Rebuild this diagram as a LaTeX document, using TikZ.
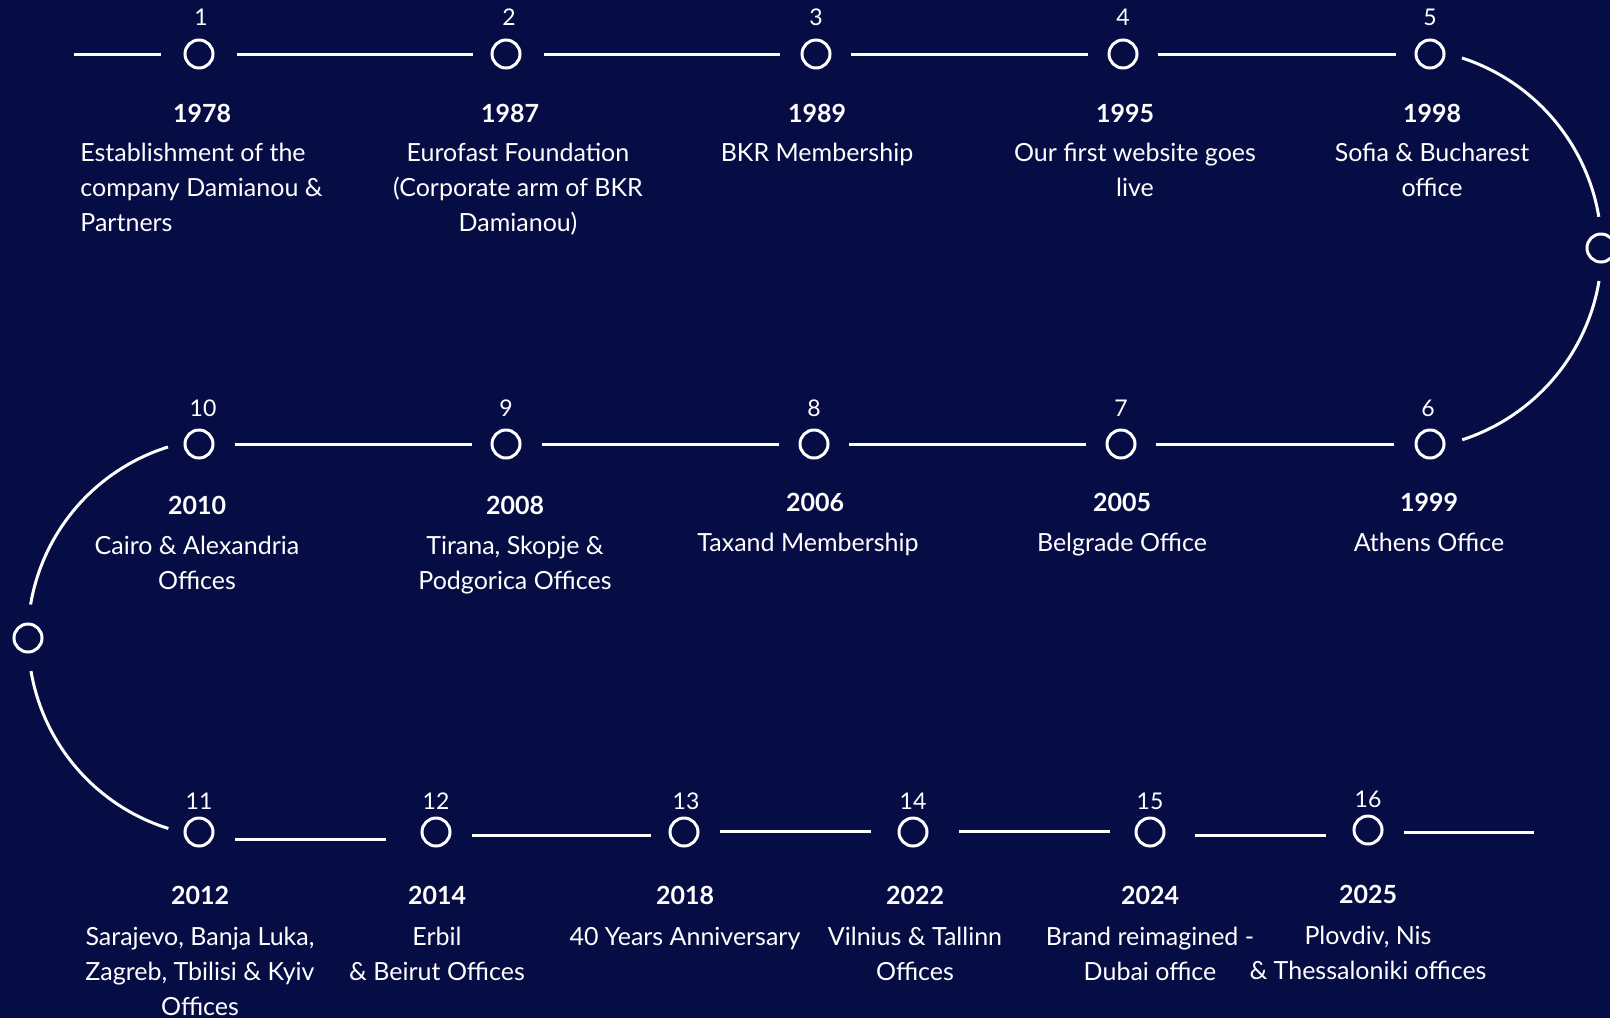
\documentclass[tikz,border=0pt]{standalone}
\usepackage{fontspec}
\setmainfont{Lato}
\definecolor{bgnavy}{RGB}{6,13,69}

\tikzset{
  dot/.style={circle,draw=white,line width=1.5pt,minimum size=14pt,inner sep=0pt},
  num/.style={white,font=\fontsize{11.5}{13}\selectfont,anchor=base,inner sep=0pt},
  yr/.style={white,font=\fontsize{12.5}{15}\selectfont\bfseries,anchor=base,inner sep=0pt},
  txt/.style={white,font=\fontsize{12.5}{17.5}\selectfont,anchor=base,align=center,inner sep=0pt},
  link/.style={white,line width=1.5pt}
}

\begin{document}
\begin{tikzpicture}[x=0.5pt,y=-0.5pt]
\useasboundingbox (0,0) rectangle (1610,1018);
\fill[bgnavy] (0,0) rectangle (1610,1018);
% first row
\node[dot] (n1) at (199,54) {};
\node[dot] (n2) at (506,54) {};
\node[dot] (n3) at (816,54) {};
\node[dot] (n4) at (1123,54) {};
\node[dot] (n5) at (1430,54) {};
\node[num] (k1) at (201,25) {1};
\node[num] (k2) at (509,25) {2};
\node[num] (k3) at (816,25) {3};
\node[num] (k4) at (1123,25) {4};
\node[num] (k5) at (1430,25) {5};
\node[yr] (y1) at (202,122) {1978};
\node[yr] (y2) at (510,122) {1987};
\node[yr] (y3) at (817,122) {1989};
\node[yr] (y4) at (1125,122) {1995};
\node[yr] (y5) at (1432,122) {1998};
% multi-line texts sit on their last line
\node[txt,anchor=base west,align=left] (d1) at (80,231) {Establishment of the\\company Damianou \&\\Partners};
\node[txt] (d2) at (518,231) {Eurofast Foundation\\(Corporate arm of BKR\\Damianou)};
\node[txt] (d3) at (817,161) {BKR Membership};
\node[txt] (d4) at (1135,196) {Our first website goes\\live};
\node[txt] (d5) at (1432,196) {Sofia \& Bucharest\\office};
% second row
\node[dot] (n10) at (199,444) {};
\node[dot] (n9) at (506,444) {};
\node[dot] (n8) at (814,444) {};
\node[dot] (n7) at (1121,444) {};
\node[dot] (n6) at (1430,444) {};
\node[num] (k10) at (203,416) {10};
\node[num] (k9) at (506,416) {9};
\node[num] (k8) at (814,416) {8};
\node[num] (k7) at (1121,416) {7};
\node[num] (k6) at (1428,416) {6};
\node[yr] (y10) at (197,514) {2010};
\node[yr] (y9) at (515,514) {2008};
\node[yr] (y8) at (815,511) {2006};
\node[yr] (y7) at (1122,511) {2005};
\node[yr] (y6) at (1429,511) {1999};
\node[txt] (d10) at (197,589) {Cairo \& Alexandria\\Offices};
\node[txt] (d9) at (515,589) {Tirana, Skopje \&\\Podgorica Offices};
\node[txt] (d8) at (808,551) {Taxand Membership};
\node[txt] (d7) at (1122,551) {Belgrade Office};
\node[txt] (d6) at (1429,551) {Athens Office};
% third row
\node[dot] (n11) at (199,832) {};
\node[dot] (n12) at (436,832) {};
\node[dot] (n13) at (684,832) {};
\node[dot] (n14) at (913,832) {};
\node[dot] (n15) at (1150,832) {};
\node[dot] (n16) at (1368,830) {};
\node[num] (k11) at (199,809) {11};
\node[num] (k12) at (436,809) {12};
\node[num] (k13) at (686,809) {13};
\node[num] (k14) at (913,809) {14};
\node[num] (k15) at (1150,809) {15};
\node[num] (k16) at (1368,807) {16};
\node[yr] (y11) at (200,904) {2012};
\node[yr] (y12) at (437,904) {2014};
\node[yr] (y13) at (685,904) {2018};
\node[yr] (y14) at (915,904) {2022};
\node[yr] (y15) at (1150,904) {2024};
\node[yr] (y16) at (1368,903) {2025};
\node[txt] (d11) at (200,1015) {Sarajevo, Banja Luka,\\Zagreb, Tbilisi \& Kyiv\\Offices};
\node[txt] (d12) at (437,980) {Erbil\\\& Beirut Offices};
\node[txt] (d13) at (685,945) {40 Years Anniversary};
\node[txt] (d14) at (915,980) {Vilnius \& Tallinn\\Offices};
\node[txt] (d15) at (1150,980) {Brand reimagined -\\Dubai office};
\node[txt] (d16) at (1368,979) {Plovdiv, Nis\\\& Thessaloniki offices};
% turning points
\node[dot] (r) at (1601,248) {};
\node[dot] (l) at (28,638) {};
\coordinate (s) at (74,54);
\coordinate (e) at (1534,832);
% connectors
\draw[link] (s) -- ([shift={(-38,0)}]n1.center);
\draw[link] ([shift={(38,0)}]n1.center) -- ([shift={(-33,0)}]n2.center);
\draw[link] ([shift={(38,0)}]n2.center) -- ([shift={(-36,0)}]n3.center);
\draw[link] ([shift={(35,0)}]n3.center) -- ([shift={(-35,0)}]n4.center);
\draw[link] ([shift={(35,0)}]n4.center) -- ([shift={(-34,0)}]n5.center);
\draw[link] ([shift={(32,4)}]n5.center) arc[start angle=-72,end angle=-9.5,radius=202];
\draw[link] ([shift={(-2,33)}]r.center) arc[start angle=9.5,end angle=72,radius=202];
\draw[link] ([shift={(-36,0)}]n6.center) -- ([shift={(35,0)}]n7.center);
\draw[link] ([shift={(-35,0)}]n7.center) -- ([shift={(35,0)}]n8.center);
\draw[link] ([shift={(-35,0)}]n8.center) -- ([shift={(36,0)}]n9.center);
\draw[link] ([shift={(-34,0)}]n9.center) -- ([shift={(36,0)}]n10.center);
\draw[link] ([shift={(-31,3)}]n10.center) arc[start angle=252.6,end angle=189.6,radius=200];
\draw[link] ([shift={(3,33)}]l.center) arc[start angle=170.4,end angle=107.4,radius=200];
\draw[link] ([shift={(36,7)}]n11.center) -- ([shift={(-50,7)}]n12.center);
\draw[link] ([shift={(36,3)}]n12.center) -- ([shift={(-33,3)}]n13.center);
\draw[link] ([shift={(36,-1)}]n13.center) -- ([shift={(-42,-1)}]n14.center);
\draw[link] ([shift={(46,-1)}]n14.center) -- ([shift={(-40,-1)}]n15.center);
\draw[link] ([shift={(45,3)}]n15.center) -- ([shift={(-42,5)}]n16.center);
\draw[link] ([shift={(36,2)}]n16.center) -- (e);
\end{tikzpicture}
\end{document}
